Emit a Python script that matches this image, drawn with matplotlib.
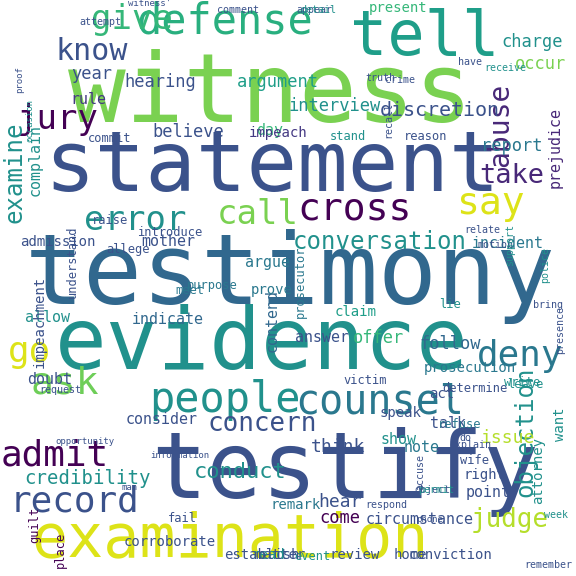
import matplotlib
matplotlib.use("Agg")
import matplotlib.pyplot as plt

# word cloud layout (pixel centres, em size in px, rotation, colour)
words = ["testimony", "witness", "statement", "evidence", "testify", "examination",
         "tell", "defense", "give", "know", "jury", "error", "call", "cross", "say",
         "conversation", "people", "counsel", "ask", "admit", "record", "deny", "go",
         "concern", "conduct", "credibility", "judge", "abuse", "objection", "examine",
         "interview", "discretion", "argument", "hearing", "year", "rule", "take",
         "report", "charge", "occur", "present", "believe", "day", "complain",
         "prejudice", "impeach", "admission", "mother", "argue", "incident",
         "contend", "indicate", "offer", "follow", "answer", "allow", "claim",
         "prove", "purpose", "impeachment", "understand", "meet", "prosecutor",
         "doubt", "consider", "show", "think", "note", "talk", "issue", "want",
         "prosecution", "victim", "determine", "leave", "speak", "write", "act",
         "hear", "come", "remark", "matter", "fail", "circumstance", "point", "right",
         "attorney", "read", "event", "review", "home", "conviction", "establish",
         "corroborate", "place", "guilt", "raise", "introduce", "allege", "commit",
         "reason", "stand", "recall", "crime", "truth", "have", "receive", "attempt",
         "appear", "comment", "detail", "relate", "motion", "police", "support",
         "presence", "request", "explain", "refuse", "wife", "object", "permit",
         "respond", "week", "remember", "lie", "man", "accuse", "bring", "do",
         "opportunity", "information", "occasion", "proof", "witness'", "phone"]
xs = [290, 270, 272, 262, 345, 230,
      425, 225, 132, 92, 58, 135, 258, 355, 490,
      380, 225, 380, 65, 55, 75, 520, 30,
      262, 240, 88, 510, 500, 525, 15,
      335, 440, 278, 160, 92, 88, 512,
      512, 532, 540, 398, 188, 270, 35,
      555, 278, 58, 168, 268, 508,
      272, 168, 378, 450, 322, 48, 356,
      272, 212, 40, 72, 190, 300,
      50, 162, 398, 338, 422, 448, 508, 560,
      470, 365, 475, 525, 400, 522, 442,
      340, 340, 296, 280, 182, 420, 488, 484,
      538, 268, 312, 355, 410, 450, 262,
      170, 60, 35, 110, 170, 128, 110,
      426, 348, 388, 400, 380, 470, 505, 100,
      314, 238, 318, 482, 495, 545, 510,
      560, 60, 470, 460, 475, 432, 436,
      386, 556, 548, 450, 130, 420, 548, 465,
      85, 180, 30, 20, 150, 430]
ys = [276, 95, 168, 346, 472, 540,
      38, 22, 20, 52, 120, 220, 214, 210, 204,
      242, 400, 402, 384, 456, 502, 356, 352,
      424, 472, 478, 520, 125, 432, 172,
      106, 110, 82, 82, 74, 100, 176,
      146, 42, 64, 8, 132, 130, 160,
      148, 133, 242, 242, 263, 244,
      320, 320, 338, 344, 337, 318, 312,
      290, 286, 322, 262, 290, 282,
      380, 420, 440, 447, 448, 424, 438, 424,
      368, 380, 388, 385, 413, 383, 394,
      502, 518, 505, 555, 518, 519, 492, 475,
      470, 555, 557, 555, 555, 555, 555,
      542, 550, 525, 220, 232, 250, 138,
      137, 136, 120, 80, 78, 62, 68, 22,
      10, 10, 10, 230, 245, 265, 245,
      330, 390, 445, 425, 460, 490, 490,
      505, 515, 565, 305, 488, 472, 305, 438,
      442, 456, 120, 80, 4, 520]
sizes = [98, 96, 84, 86, 92, 60,
         62, 42, 34, 30, 34, 34, 34, 38, 38,
         24, 42, 40, 38, 36, 36, 36, 36,
         26, 22, 19, 26, 28, 24, 24,
         17, 20, 17, 17, 17, 15, 27,
         17, 17, 17, 14, 17, 15, 15,
         15, 14, 14, 15, 15, 15,
         15, 15, 17, 17, 15, 15, 14,
         14, 12, 14, 12, 12, 12,
         15, 15, 15, 18, 15, 15, 18, 14,
         14, 12, 12, 12, 14, 12, 14,
         18, 17, 14, 14, 12, 15, 15, 14,
         14, 14, 12, 14, 14, 14, 14,
         14, 12, 12, 12, 12, 12, 12,
         12, 12, 10, 10, 10, 10, 10, 10,
         10, 10, 10, 10, 10, 10, 10,
         10, 10, 10, 12, 12, 10, 10,
         10, 10, 10, 12, 9, 10, 10, 10,
         9, 9, 9, 9, 9, 9]
rots = [0, 0, 0, 0, 0, 0,
        0, 0, 0, 0, 0, 0, 0, 0, 0,
        0, 0, 0, 0, 0, 0, 0, 0,
        0, 0, 0, 0, 90, 90, 90,
        0, 0, 0, 0, 0, 0, 0,
        0, 0, 0, 0, 0, 0, 90,
        90, 0, 0, 0, 0, 0,
        90, 0, 0, 0, 0, 0, 0,
        0, 0, 90, 90, 0, 90,
        0, 0, 0, 0, 0, 0, 0, 90,
        0, 0, 0, 0, 0, 0, 0,
        0, 0, 0, 0, 0, 0, 0, 0,
        90, 0, 0, 0, 0, 0, 0,
        0, 90, 90, 0, 0, 0, 0,
        0, 0, 90, 0, 0, 0, 0, 0,
        0, 0, 0, 0, 0, 90, 90,
        90, 0, 0, 0, 0, 0, 0,
        0, 0, 0, 0, 0, 90, 0, 0,
        0, 0, 90, 90, 0, 0]
cols = ["#31688e", "#7ad151", "#3b528b", "#21918c", "#3b528b", "#dde318",
        "#1f9e89", "#29af7f", "#35b779", "#3b528b", "#440154", "#21918c", "#7ad151", "#440154", "#dde318",
        "#21918c", "#21918c", "#2a788e", "#6ece58", "#440154", "#3b528b", "#2a788e", "#dde318",
        "#3b528b", "#21918c", "#21918c", "#b5de2b", "#482878", "#21918c", "#21918c",
        "#21918c", "#3b528b", "#1f9e89", "#3b528b", "#3b528b", "#443983", "#482878",
        "#2a788e", "#21918c", "#7ad151", "#35b779", "#3b528b", "#35b779", "#21918c",
        "#482878", "#443983", "#3b528b", "#3b528b", "#2a788e", "#2a788e",
        "#31688e", "#31688e", "#35b779", "#31688e", "#3b528b", "#21918c", "#1f9e89",
        "#2a788e", "#2a788e", "#3b528b", "#3b528b", "#2a788e", "#2a788e",
        "#3b528b", "#3b528b", "#21918c", "#3b528b", "#2a788e", "#3b528b", "#b5de2b", "#21918c",
        "#2a788e", "#3b528b", "#3b528b", "#21918c", "#3b528b", "#21918c", "#3b528b",
        "#3b528b", "#440154", "#2a788e", "#3b528b", "#3b528b", "#3b528b", "#3b528b", "#3b528b",
        "#21918c", "#21918c", "#21918c", "#3b528b", "#3b528b", "#3b528b", "#3b528b",
        "#3b528b", "#440154", "#440154", "#3b528b", "#3b528b", "#3b528b", "#3b528b",
        "#3b528b", "#21918c", "#3b528b", "#3b528b", "#3b528b", "#3b528b", "#21918c", "#3b528b",
        "#3b528b", "#3b528b", "#21918c", "#3b528b", "#3b528b", "#21918c", "#21918c",
        "#3b528b", "#3b528b", "#3b528b", "#2a788e", "#3b528b", "#3b528b", "#21918c",
        "#3b528b", "#21918c", "#3b528b", "#21918c", "#3b528b", "#3b528b", "#3b528b", "#3b528b",
        "#3b528b", "#3b528b", "#21918c", "#3b528b", "#3b528b", "#3b528b"]

fig = plt.figure(figsize=(5.76, 5.76), dpi=100)
ax = fig.add_axes([0, 0, 1, 1])
ax.set_xlim(0, 576)
ax.set_ylim(576, 0)
ax.axis("off")

for w, x, y, s, r, c in zip(words, xs, ys, sizes, rots, cols):
    ax.text(x, y, w, fontsize=s * 0.72, rotation=r, color=c,
            ha="center", va="center", family="DejaVu Sans Mono")

fig.savefig("out.png", dpi=100, facecolor="white")
